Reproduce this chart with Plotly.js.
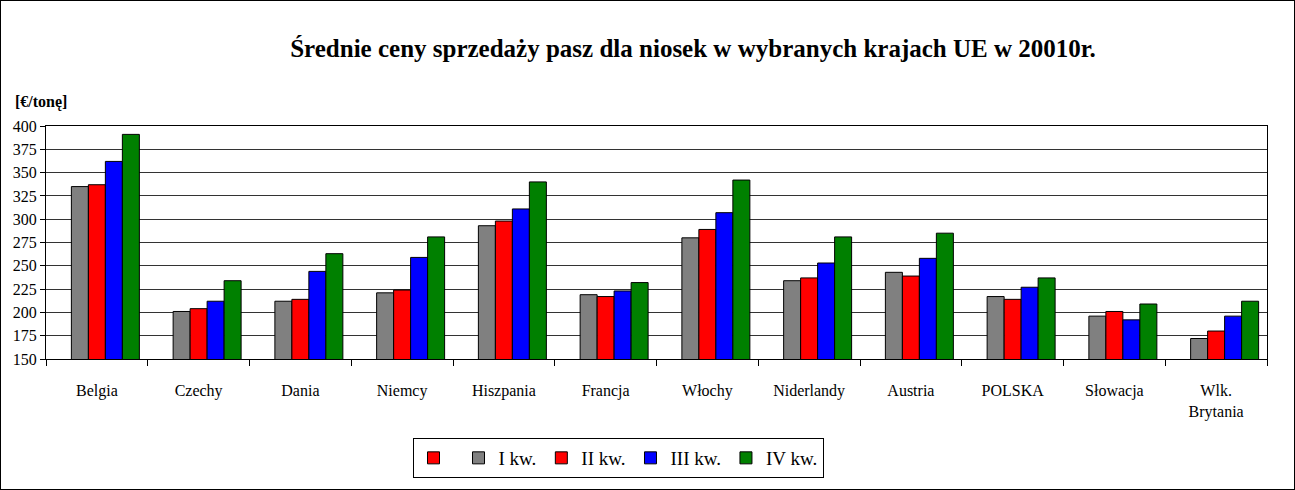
<!DOCTYPE html>
<html>
<head>
<meta charset="utf-8">
<script src="https://cdn.plot.ly/plotly-3.0.1.min.js"></script>
<style>
  html, body { margin: 0; padding: 0; background: #fff; }
  #chart { width: 1293px; height: 488px; border: 1px solid #000; }
</style>
</head>
<body>
<div id="chart"></div>
<script>
const categories = ["Belgia", "Czechy", "Dania", "Niemcy", "Hiszpania", "Francja", "Włochy", "Niderlandy", "Austria", "POLSKA", "Słowacja", "Wlk.<br>Brytania"];
const seriesNames = ["I kw.", "II kw.", "III kw.", "IV kw."];
const q1 = [335, 201, 212, 221, 293, 219, 280, 234, 243, 217, 196, 172];
const q2 = [337, 204, 214, 224, 298, 217, 289, 237, 239, 214, 201, 180];
const q3 = [362, 212, 244, 259, 311, 223, 307, 253, 258, 227, 192, 196];
const q4 = [391, 234, 263, 281, 340, 232, 342, 281, 285, 237, 209, 212];
const emptySeries = categories.map(() => null);
const colors = ["#808080", "#FF0000", "#0000FF", "#008000"];
const yTicks = [150, 175, 200, 225, 250, 275, 300, 325, 350, 375, 400];

const serif = "'Liberation Serif', 'Times New Roman', serif";
const values = [q1, q2, q3, q4];

const traces = [{
  type: "bar", name: "", x: categories, y: emptySeries,
  marker: { color: "#FF0000", line: { color: "#000", width: 1 } },
  hoverinfo: "skip"
}];
values.forEach((v, i) => {
  traces.push({
    type: "bar", name: seriesNames[i], x: categories, y: v,
    marker: { color: colors[i], line: { color: "#000", width: 1 } }
  });
});

const layout = {
  width: 1293, height: 488,
  margin: { l: 45, r: 27, t: 125, b: 130 },
  paper_bgcolor: "#fff", plot_bgcolor: "#fff",
  font: { family: serif, color: "#000", size: 14 },
  barmode: "group", bargap: 0.165, bargroupgap: 0,
  showlegend: true,
  title: {
    text: "<b>Średnie ceny sprzedaży pasz dla niosek w wybranych krajach UE w 20010r.</b>",
    font: { family: serif, size: 25, color: "#000" },
    xref: "container", x: 692 / 1293, xanchor: "center",
    yref: "container", y: 1 - 47 / 488, yanchor: "middle"
  },
  xaxis: {
    type: "category", tickson: "boundaries", ticks: "outside", ticklen: 6,
    tickcolor: "#000", showline: true, linecolor: "#000", mirror: true,
    showgrid: false, tickfont: { family: serif, size: 16 },
    ticklabelstandoff: 17, fixedrange: true
  },
  yaxis: {
    range: [150, 400], tickvals: yTicks, ticktext: yTicks.map(String),
    ticks: "outside", ticklen: 5, tickcolor: "#000",
    showline: true, linecolor: "#000", mirror: true,
    showgrid: true, gridcolor: "#333", gridwidth: 1,
    zeroline: false, tickfont: { family: serif, size: 16 }, fixedrange: true
  },
  legend: {
    orientation: "h", xref: "container", yref: "container",
    x: 617 / 1293, xanchor: "center", y: 1 - 437 / 488, yanchor: "top",
    bgcolor: "#fff", bordercolor: "#000", borderwidth: 1,
    font: { family: serif, size: 19, color: "#000" },
    traceorder: "normal"
  },
  annotations: [{
    text: "<b>[€/tonę]</b>", xref: "paper", yref: "paper",
    x: -33 / 1221, xanchor: "left", y: 1 + 24 / 233, yanchor: "middle",
    showarrow: false, font: { family: serif, size: 16, color: "#000" }
  }]
};

Plotly.newPlot("chart", traces, layout, { displayModeBar: false, staticPlot: true });
</script>
</body>
</html>
